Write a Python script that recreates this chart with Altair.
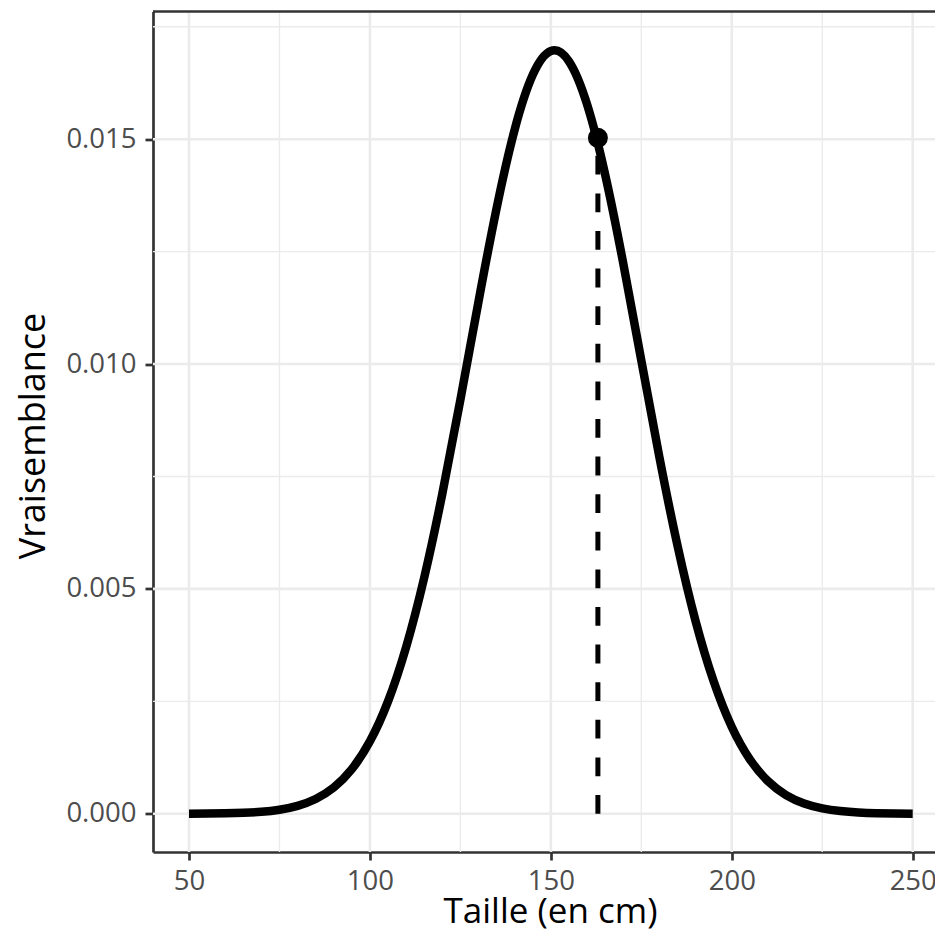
import altair as alt
import pandas as pd

# Curve (height in cm vs likelihood)
taille = [50, 55, 60, 65, 70, 75, 80, 85, 90, 95, 100, 105, 110, 115, 120, 125,
          130, 135, 140, 145, 150, 155, 160, 165, 170, 175, 180, 185, 190,
          195, 200, 205, 210, 215, 220, 225, 230, 235, 240, 245, 250]
vraisemblance = [0.0000017, 0.0000040, 0.0000094, 0.0000209, 0.0000447, 0.0000909,
                 0.000177, 0.000329, 0.000584, 0.000993, 0.001611, 0.002499,
                 0.003706, 0.005251, 0.007113, 0.009206, 0.011388, 0.013464,
                 0.015214, 0.016431, 0.016961, 0.016732, 0.015776,
                 0.014216, 0.012243, 0.010077, 0.007928, 0.005961, 0.004283,
                 0.002942, 0.001930, 0.001211, 0.000726, 0.000416, 0.000228,
                 0.000119, 0.0000597, 0.0000285, 0.0000130, 0.0000057, 0.0000024]

point_taille = [163]
point_vrais = [0.01503]
point_base = [0.0]

x_major = [50, 100, 150, 200, 250]
x_minor = [75, 125, 175, 225]
y_major = [0.0, 0.005, 0.010, 0.015]
y_minor = [0.0025, 0.0075, 0.0125, 0.0175]

W, H = 782, 840.5
PX_PER_UNIT = 3.6185
X0 = 40.05

xscale = alt.Scale(domain=[X0, X0 + W / PX_PER_UNIT], nice=False, zero=False)
yscale = alt.Scale(domain=[-0.00085, 0.01784], nice=False, zero=False)

xaxis = alt.Axis(values=x_major, title="Taille (en cm)", format="d",
                 titleX=397, titleY=70, titleBaseline="alphabetic",
                 titleAlign="center", labelPadding=7)
yaxis = alt.Axis(values=y_major, title="Vraisemblance", format=".3f",
                 titleX=-109, titleY=424, titleAngle=-90, titleFontSize=36,
                 titleBaseline="alphabetic", titleAlign="center",
                 labelPadding=9)

curve_df = pd.DataFrame({"taille": taille, "v": vraisemblance})
pt_df = pd.DataFrame({"taille": point_taille, "v": point_vrais, "v0": point_base})

GRID = "#EBEBEB"

minor_x = alt.Chart(pd.DataFrame({"g": x_minor})).mark_rule(color=GRID, strokeWidth=1.4).encode(
    x=alt.X("g:Q", scale=xscale, axis=xaxis))
major_x = alt.Chart(pd.DataFrame({"g": x_major})).mark_rule(color=GRID, strokeWidth=2.6).encode(
    x=alt.X("g:Q", scale=xscale, axis=xaxis))
minor_y = alt.Chart(pd.DataFrame({"g": y_minor})).mark_rule(color=GRID, strokeWidth=1.4).encode(
    y=alt.Y("g:Q", scale=yscale, axis=yaxis))
major_y = alt.Chart(pd.DataFrame({"g": y_major})).mark_rule(color=GRID, strokeWidth=2.6).encode(
    y=alt.Y("g:Q", scale=yscale, axis=yaxis))

curve = alt.Chart(curve_df).mark_line(
    color="black", strokeWidth=8.5, interpolate="natural", strokeCap="butt"
).encode(
    x=alt.X("taille:Q", scale=xscale, axis=xaxis),
    y=alt.Y("v:Q", scale=yscale, axis=yaxis),
)

dash = alt.Chart(pt_df).mark_rule(
    color="black", strokeWidth=5, strokeDash=[18.8, 18.8], strokeCap="butt"
).encode(
    x=alt.X("taille:Q", scale=xscale, axis=xaxis),
    y=alt.Y("v0:Q", scale=yscale, axis=yaxis),
    y2="v:Q",
)

point = alt.Chart(pt_df).mark_circle(color="black", size=400, opacity=1).encode(
    x=alt.X("taille:Q", scale=xscale, axis=xaxis),
    y=alt.Y("v:Q", scale=yscale, axis=yaxis),
)

top_border = alt.Chart(pd.DataFrame({"a": [0]})).mark_rule(
    color="#333333", strokeWidth=2.7
).encode(x=alt.value(0), x2=alt.value(W), y=alt.value(0))

chart = alt.layer(
    minor_x, minor_y, major_x, major_y, dash, curve, point, top_border
).properties(
    width=W, height=H,
    autosize=alt.AutoSizeParams(type="none"),
    padding={"left": 145, "top": 3.5, "right": 0, "bottom": 77},
    background="white",
).configure_view(
    stroke=None
).configure_axis(
    grid=False,
    domainColor="#333333", domainWidth=2.7,
    tickColor="#333333", tickWidth=2.7, tickSize=8,
    labelFont="Open Sans", labelFontSize=27.5, labelColor="#4D4D4D",
    titleFont="Open Sans", titleFontSize=35, titleColor="black",
    titleFontWeight="normal", labelFlush=False, labelOverlap=False,
)

chart.save("out.html", embed_options={"renderer": "svg", "actions": False})
